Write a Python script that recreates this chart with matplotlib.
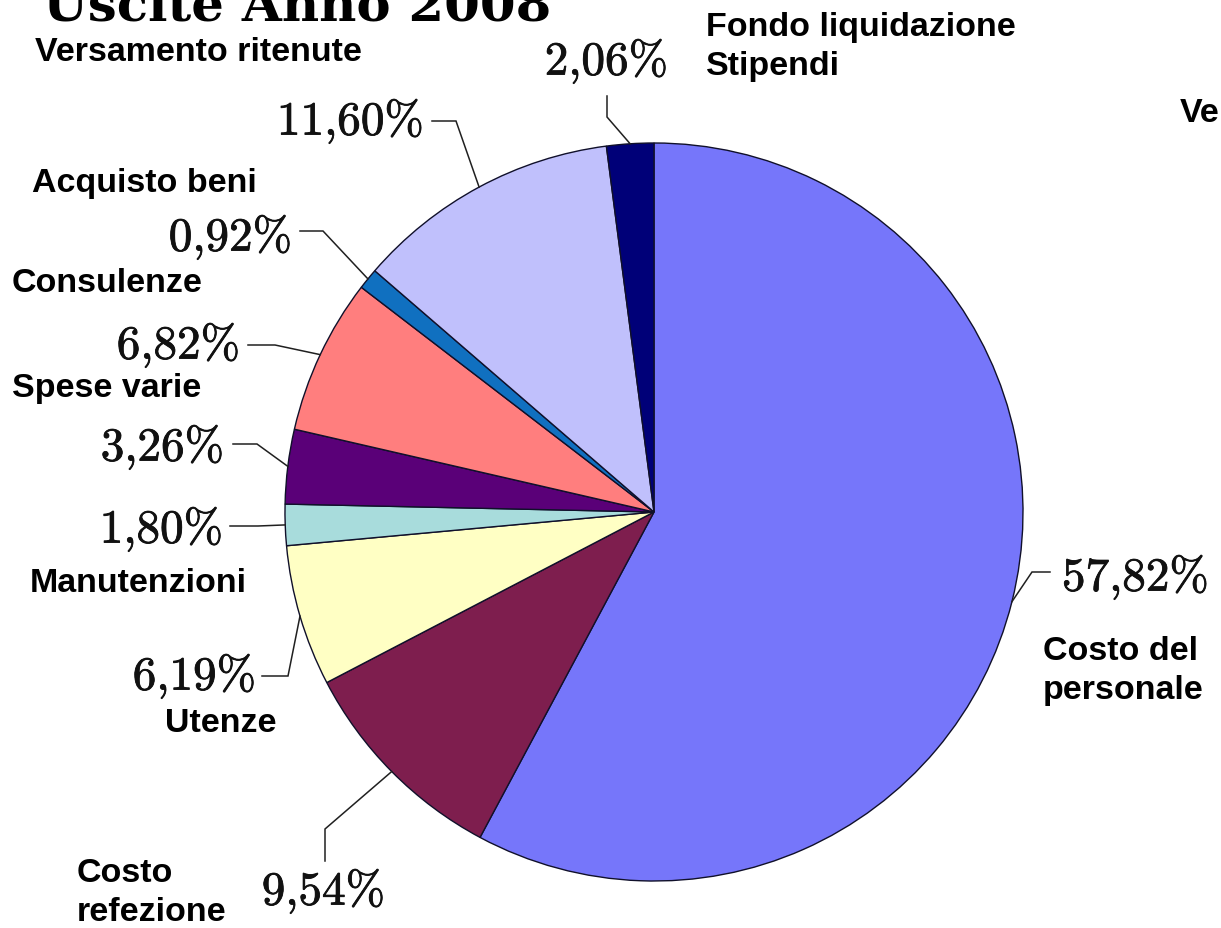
import matplotlib
matplotlib.use("Agg")
import matplotlib.pyplot as plt
import matplotlib.patheffects as pe
import numpy as np

plt.rcParams['mathtext.fontset'] = 'cm'

# ---------------- data ----------------
categories = ["Costo del personale", "Costo refezione", "Utenze", "Manutenzioni",
              "Spese varie", "Consulenze", "Acquisto beni", "Versamento ritenute",
              "Fondo liquidazione Stipendi"]
shares = [57.82, 9.54, 6.19, 1.80, 3.26, 6.82, 0.92, 11.60, 2.06]
colors = ["#7676fa", "#7e1e4e", "#ffffc4", "#a8dcdc", "#5a0078",
          "#ff7e7e", "#1070c0", "#c0c0fc", "#000078"]
title = "Uscite Anno 2008"

# ---------------- layout (pixel coordinates, y downward) ----------------
W, H = 1221, 929
CX, CY, R = 654, 513, 369
# percent label: text centre, leader tip (at text), leader knee
pct_pos = [(1135, 578), (323, 892), (194, 677), (161, 530), (162, 448),
           (178, 346), (230, 238), (350, 122), (606, 62)]
leader_tip = [(1050, 573), (325, 862), (262, 677), (230, 527), (233, 445),
              (248, 346), (300, 232), (432, 122), (607, 97)]
leader_knee = [(1032, 573), (325, 830), (288, 677), (258, 527), (257, 445),
               (275, 346), (323, 232), (456, 122), (607, 118)]
# category labels: (text, left x, centre y)
cat_labels = [("Costo del\npersonale", 1043, 671),
              ("Costo\nrefezione", 77, 893),
              ("Utenze", 165, 723),
              ("Manutenzioni", 30, 584),
              ("Spese varie", 12, 388),
              ("Consulenze", 12, 283),
              ("Acquisto beni", 32, 183),
              ("Versamento ritenute", 35, 52),
              ("Fondo liquidazione\nStipendi", 706, 47),
              ("Ver", 1180, 113)]

fig = plt.figure(figsize=(W / 100, H / 100), dpi=100)
ax = fig.add_axes([0, 0, 1, 1])

wedges, _ = ax.pie(shares, colors=colors, startangle=-90, counterclock=True,
                   center=(CX, CY), radius=R, frame=True,
                   wedgeprops=dict(edgecolor="#10102a", linewidth=1.0))
ax.set_xlim(0, W)
ax.set_ylim(H, 0)
ax.set_aspect("equal")
ax.axis("off")

for i, (w, v) in enumerate(zip(wedges, shares)):
    mid = np.deg2rad((w.theta1 + w.theta2) / 2)
    ax_x = w.center[0] + w.r * np.cos(mid)
    ax_y = w.center[1] + w.r * np.sin(mid)
    tx, ty = leader_tip[i]
    kx, ky = leader_knee[i]
    ax.plot([tx, kx, ax_x], [ty, ky, ax_y], color="#202020", lw=1.1,
            solid_joinstyle="miter")
    s = f"{v:.2f}".replace(".", "{,}")
    px, py = pct_pos[i]
    ax.text(px, py, r"$\mathrm{" + s + r"\%}$", fontsize=34, ha="center",
            va="center", color="#111111",
            path_effects=[pe.withStroke(linewidth=0.6, foreground="#111111")])

for txt, x, y in cat_labels:
    ax.text(x, y, txt, fontsize=24.5, fontweight="bold", family="Liberation Sans",
            ha="left", va="center", linespacing=1.3, color="black")

ax.text(43, 20, title, fontsize=37, fontweight="bold", family="DejaVu Serif",
        ha="left", va="baseline", color="black")

fig.savefig("out.png", dpi=100)
